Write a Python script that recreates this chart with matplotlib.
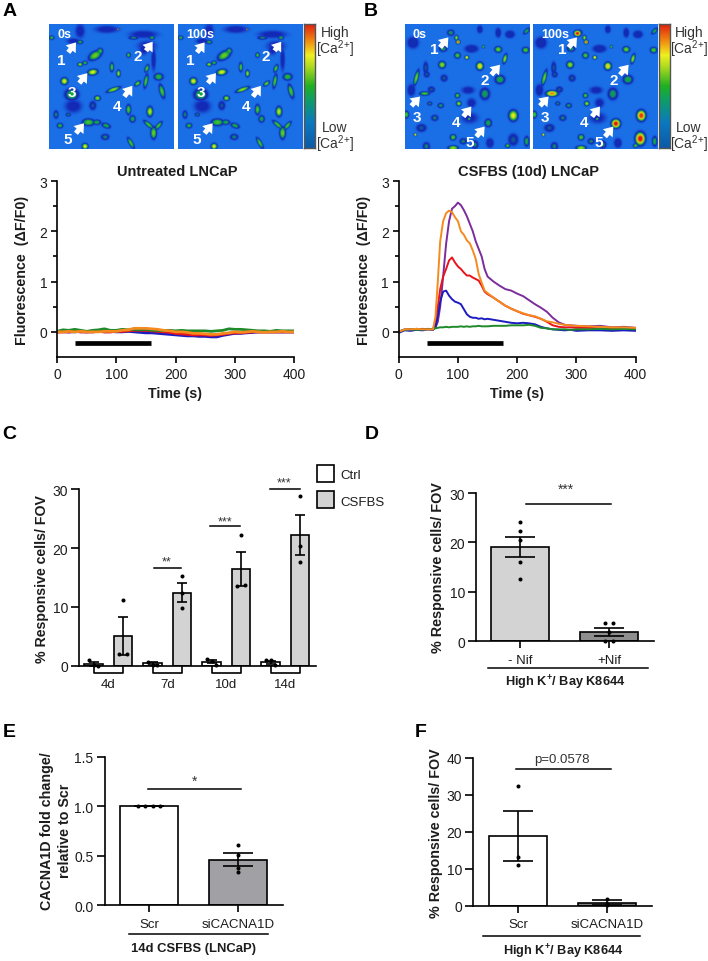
import numpy as np
import matplotlib
matplotlib.use("Agg")
import matplotlib.pyplot as plt
from matplotlib.colors import LinearSegmentedColormap
from matplotlib.lines import Line2D
from matplotlib.patches import FancyArrow, Rectangle

plt.rcParams['font.family'] = ['Liberation Sans', 'DejaVu Sans']
plt.rcParams['mathtext.default'] = 'regular'
plt.rcParams['axes.linewidth'] = 1.2

W, H = 708, 962
INK = '#1c1c1c'

TIME_B = [0, 10, 20, 30, 40, 50, 58, 62, 66, 70, 75, 80, 85, 90, 95, 100, 105, 110, 115, 120, 125, 130,
          135, 140, 145, 150, 160, 170, 180, 190, 200, 210, 220, 230, 240, 250, 260, 270, 280, 290,
          300, 320, 340, 360, 380, 400]
B_PURPLE = [0, .05, .04, .06, .05, .06, .05, .08, .2, .5, 1.1, 1.75, 2.2, 2.45, 2.5, 2.57, 2.52, 2.42, 2.3, 2.15, 2.0, 1.8,
            1.65, 1.5, 1.25, 1.1, 1.0, .92, .85, .82, .76, .71, .63, .55, .48, .4, .28, .19, .14, .13,
            .12, .11, .12, .09, .1, .08]
B_RED = [0, .04, .05, .05, .06, .05, .05, .2, .5, .85, 1.1, 1.25, 1.42, 1.48, 1.38, 1.3, 1.25, 1.18, 1.12, 1.12, 1.08, 1.05,
         1.02, .92, .8, .75, .68, .6, .52, .46, .41, .36, .33, .3, .26, .2, .13, .1, .09, .09,
         .08, .08, .07, .07, .08, .07]
B_BLUE = [-.02, .03, .02, .04, .03, .05, .04, .1, .3, .6, .8, .82, .72, .65, .6, .58, .55, .45, .35, .3, .28, .28,
          .26, .27, .25, .26, .24, .22, .2, .18, .17, .18, .17, .15, .1, .07, .05, .04, .03, .04,
          .02, .03, .03, .02, .03, .02]
B_GREEN = [.01, .04, .05, .04, .05, .05, .06, .07, .08, .09, .09, .1, .09, .1, .1, .1, .11, .1, .11, .1, .11, .11,
           .12, .11, .11, .11, .12, .12, .12, .13, .13, .13, .14, .12, .08, .07, .05, .05, .05, .04,
           .05, .05, .06, .05, .06, .05]
B_ORANGE = [0, .05, .05, .06, .05, .05, .05, .3, 1.0, 1.8, 2.2, 2.36, 2.41, 2.38, 2.28, 2.2, 2.0, 1.93, 1.82, 1.76, 1.62, 1.45,
            1.15, .98, .82, .77, .68, .6, .52, .46, .41, .37, .33, .31, .26, .21, .19, .16, .14, .13,
            .12, .11, .1, .09, .09, .08]

# traces, panel A
TIME_A = [0, 10, 20, 30, 40, 50, 60, 70, 80, 90, 100, 110, 120, 130, 140, 150, 160, 170, 180, 190, 200,
          210, 220, 230, 240, 250, 260, 270, 280, 290, 300, 310, 320, 330, 340, 350, 360, 370, 380, 390, 400]
A_GREEN = [.01, .04, .03, .05, .03, .01, .03, .04, .06, .03, .03, .05, .04, .05, .04, .05, .03, .03, .02, .03, .02,
           .03, .02, .02, .02, .02, .01, .02, .03, .06, .05, .05, .04, .03, .02, .02, .01, .03, .02, .02, .02]
A_BLUE = [0, .01, 0, 0, .01, 0, .01, .01, .01, .01, 0, 0, .01, 0, -.01, -.02, -.02, -.03, -.04, -.05, -.06,
          -.07, -.08, -.08, -.09, -.09, -.1, -.1, -.07, -.05, -.03, -.03, -.02, -.01, 0, 0, 0, 0, 0, 0, 0]
A_RED = [0, 0, 0, .01, 0, 0, 0, .01, 0, 0, .01, .01, .02, .03, .03, .03, .02, .01, 0, -.01, -.03,
         -.04, -.05, -.06, -.06, -.06, -.07, -.06, -.05, -.03, -.02, -.02, -.01, 0, 0, 0, 0, 0, 0, 0, 0]
A_ORANGE = [0, 0, .01, 0, .01, 0, 0, 0, .01, .01, .01, .03, .04, .07, .07, .07, .06, .05, .03, .02, 0,
            0, -.01, -.03, -.03, -.04, -.05, -.05, -.03, -.02, 0, -.01, 0, .01, 0, -.01, 0, 0, .01, 0, 0]

# panel C
C_DAYS = ['4d', '7d', '10d', '14d']
C_CTRL = [0.3, 0.4, 0.7, 0.6]
C_CTRL_UP = [0.7, 0.6, 0.9, 0.8]
C_CTRL_LOW = [0.0, 0.1, 0.4, 0.3]
C_CSFBS = [5.0, 12.4, 16.5, 22.2]
C_CSFBS_UP = [8.2, 14.1, 19.4, 25.7]
C_CSFBS_LOW = [1.9, 10.9, 13.6, 18.9]
C_CTRL_DOTS = [[1.0, 0.2, -0.1], [0.7, 0.2, 0.1], [1.1, 0.8, 0.2], [1.0, 0.9, 0.1]]
C_CSFBS_DOTS = [[11.2, 2.0, 2.0], [15.2, 12.3, 9.8], [22.2, 13.5, 13.8], [28.8, 20.4, 17.7]]

# panel D
D_LABELS = ['- Nif', '+Nif']
D_MEANS = [19.0, 1.8]
D_UP = [21.2, 2.7]
D_LOW = [17.0, 1.0]
D_DOTS = [[24.1, 22.3, 20.4, 16.0, 12.7], [3.8, 3.7, 1.8, 0.0, 0.0]]

# panel E
E_LABELS = ['Scr', 'siCACNA1D']
E_MEANS = [1.0, 0.46]
E_UP = [1.0, 0.53]
E_LOW = [1.0, 0.40]
E_DOTS = [[1.0, 1.0, 1.0, 1.0], [0.61, 0.51, 0.38, 0.34]]

# panel F
F_LABELS = ['Scr', 'siCACNA1D']
F_MEANS = [18.8, 0.9]
F_UP = [25.7, 1.7]
F_LOW = [12.2, 0.3]
F_DOTS = [[32.3, 13.2, 11.0], [2.0, 0.5, 0.2]]

# microscope fields: x, y, half length, half width, angle, level (0-374 across each picture)
CELLS_A = [(137, 93, 14, 8, -30, .55), (152, 80, 6, 6, 0, .45), (92, 120, 5, 4, 0, .6), (107, 115, 5, 4, 0, .45),
           (130, 143, 10, 6, -10, .7), (187, 128, 4, 9, 0, .5), (207, 147, 4, 7, 0, .6), (237, 92, 4, 5, 0, .5),
           (292, 132, 4, 8, 20, .5), (289, 170, 4, 14, 10, .5), (264, 177, 7, 4, -40, .55), (327, 157, 9, 7, 0, .45),
           (337, 200, 5, 14, -15, .5), (192, 195, 14, 4, -20, .6), (144, 221, 6, 5, 0, .6), (130, 243, 7, 9, 0, .25),
           (45, 170, 7, 7, 0, .7), (67, 210, 14, 12, 0, .4), (72, 245, 18, 14, 0, .15), (20, 270, 5, 8, 0, .3),
           (57, 270, 5, 4, 0, .3), (237, 255, 5, 10, 0, .5), (249, 283, 6, 7, 0, .4), (301, 261, 6, 10, 0, .65),
           (32, 303, 6, 5, 0, .45), (117, 293, 12, 7, 0, .5), (142, 293, 8, 5, 0, .4), (170, 303, 9, 5, 20, .4),
           (167, 337, 8, 6, 0, .3), (297, 300, 12, 4, 40, .5), (327, 303, 10, 4, -50, .5), (312, 325, 6, 12, 0, .55),
           (107, 365, 6, 6, 0, .7), (244, 355, 4, 12, -30, .5), (92, 20, 10, 15, 0, .15), (72, 50, 14, 6, 0, .15),
           (92, 53, 6, 4, 0, .4), (172, 15, 25, 8, 0, .15), (205, 15, 2, 2, 0, .95), (282, 30, 30, 8, 0, .15),
           (252, 40, 10, 4, 0, .3), (307, 40, 6, 4, 0, .4), (282, 75, 10, 12, 0, .13), (312, 105, 5, 25, 0, .15),
           (292, 65, 20, 12, 0, .13), (7, 40, 5, 4, 0, .45)]
CELLS_B = [(136, 25, 7, 6, 0, .35), (153, 40, 4, 5, 0, .6), (158, 53, 4, 4, 0, .95), (113, 73, 8, 6, 0, .35),
           (23, 55, 12, 12, 0, .2), (223, 15, 6, 8, 0, .2), (278, 25, 6, 10, 0, .2), (313, 30, 10, 8, 0, .2),
           (363, 20, 8, 4, -45, .4), (198, 73, 14, 8, 0, .2), (233, 67, 3, 3, 0, .5), (278, 75, 7, 6, 0, .55),
           (360, 77, 7, 6, 0, .5), (156, 93, 6, 6, 0, .5), (184, 99, 4, 4, 0, .75), (298, 103, 4, 10, 15, .6),
           (223, 125, 7, 8, 0, .75), (110, 121, 7, 7, 0, .6), (33, 160, 4, 16, 15, .55), (61, 130, 5, 12, 0, .25),
           (64, 150, 6, 6, 0, .25), (116, 161, 7, 7, 0, .25), (283, 165, 10, 9, 0, .4), (18, 197, 8, 12, 0, .2),
           (58, 207, 10, 4, 0, .5), (78, 195, 7, 6, 0, .25), (188, 197, 14, 8, 0, .15), (238, 208, 10, 12, 0, .35),
           (156, 213, 5, 5, 0, .5), (198, 235, 10, 10, 0, .15), (160, 237, 5, 5, 0, .6), (106, 243, 6, 5, 0, .35),
           (73, 237, 5, 4, 0, .3), (3, 270, 5, 7, 0, .5), (88, 280, 7, 6, 0, .3), (193, 280, 18, 12, 0, .13),
           (191, 283, 3, 3, 0, .5), (248, 295, 7, 8, 0, .4), (323, 273, 9, 11, 0, .7), (30, 330, 3, 3, 0, .8),
           (48, 310, 10, 8, 0, .25), (143, 338, 6, 6, 0, .5), (173, 350, 7, 6, 0, .3), (253, 355, 8, 10, 0, .2),
           (208, 360, 7, 8, 0, .3), (323, 345, 10, 12, 0, .25), (363, 350, 5, 10, 0, .4), (306, 363, 5, 4, 0, .5),
           (63, 365, 7, 8, 0, .3), (143, 370, 10, 5, 0, .6)]
CELLS_B_LATE = [(132, 27, 7, 6, 0, 1.0), (56, 207, 12, 6, 0, .85), (247, 297, 9, 9, 0, 1.0),
                (320, 342, 10, 13, 0, 1.0), (323, 273, 9, 11, 0, .95)]

# arrow tip, arrow tail, label position
ARROWS_A = [((80, 55), (57, 85), '1', (37, 107)), ((310, 53), (290, 80), '2', (265, 97)),
            ((114, 147), (90, 177), '3', (69, 203)), ((249, 185), (225, 217), '4', (204, 245)),
            ((104, 297), (80, 327), '5', (56, 345))]
ARROWS_B = [((131, 40), (106, 70), '1', (88, 75)), ((286, 122), (260, 152), '2', (240, 168)),
            ((46, 217), (20, 245), '3', (36, 277)), ((200, 247), (176, 277), '4', (153, 293)),
            ((240, 307), (215, 337), '5', (195, 352))]

field_cmap = LinearSegmentedColormap.from_list('field', [
    (0, '#1a6fe6'), (.12, '#1428b8'), (.2, '#1030b0'), (.3, '#108a70'), (.4, '#10a840'),
    (.55, '#70c820'), (.7, '#e8e820'), (.85, '#f08010'), (1, '#d81010')])
bar_cmap = LinearSegmentedColormap.from_list('calib', [
    (0, '#0c5aa8'), (.2, '#0a78c0'), (.4, '#10a060'), (.5, '#20b020'), (.65, '#a8d820'),
    (.75, '#f0f020'), (.87, '#f08810'), (1, '#e02010')])

fig = plt.figure(figsize=(W / 100, H / 100), dpi=100)


def axes_px(left, right, top, bottom):
    return fig.add_axes([left / W, 1 - bottom / H, (right - left) / W, (bottom - top) / H])


def text_px(x, y, s, **kw):
    kw.setdefault('ha', 'center')
    kw.setdefault('va', 'center')
    kw.setdefault('color', INK)
    kw.setdefault('fontsize', 10)
    fig.text(x / W, 1 - y / H, s, **kw)


def line_px(x0, x1, y):
    fig.add_artist(Line2D([x0 / W, x1 / W], [1 - y / H, 1 - y / H], color='black', lw=1.1))


def render_field(cells):
    xx, yy = np.meshgrid(np.arange(0, 374, 2.0), np.arange(0, 374, 2.0))
    out = np.zeros_like(xx)
    for x, y, a, b, angle, level in cells:
        t = np.deg2rad(angle)
        u = (xx - x) * np.cos(t) + (yy - y) * np.sin(t)
        v = -(xx - x) * np.sin(t) + (yy - y) * np.cos(t)
        r = np.sqrt((u / a) ** 2 + (v / b) ** 2)
        blob = level * np.exp(-(r / 1.35) ** 3)
        out = np.maximum(out, blob)
    return out


def micro(left, right, cells, arrows, stamp):
    ax = axes_px(left, right, 25, 150)
    ax.imshow(render_field(cells), cmap=field_cmap, vmin=0, vmax=1, extent=(0, 374, 374, 0),
              interpolation='bilinear', aspect='auto')
    ax.axis('off')
    for tip, tail, name, pos in arrows:
        ax.add_patch(FancyArrow(tail[0], tail[1], tip[0] - tail[0], tip[1] - tail[1], width=15, head_width=38,
                                head_length=26, length_includes_head=True, color='white', lw=0))
        ax.text(pos[0], pos[1], name, color='white', fontsize=11, fontweight='bold', ha='center', va='center')
    ax.text(24, 30, stamp, color='white', fontsize=9, fontweight='bold', ha='left', va='center')


def calib(left, right, tx):
    ax = axes_px(left, right, 25, 149)
    ax.imshow(np.linspace(1, 0, 200).reshape(-1, 1), cmap=bar_cmap, aspect='auto')
    ax.set_xticks([])
    ax.set_yticks([])
    for s in ax.spines.values():
        s.set_color('#555555')
        s.set_linewidth(1)
    text_px(tx, 33, 'High', color='#333333')
    text_px(tx, 49, '[Ca$^{2{+}}$]', color='#333333')
    text_px(tx, 128, 'Low', color='#333333')
    text_px(tx, 144, '[Ca$^{2{+}}$]', color='#333333')


def trace_panel(left, right, series, bar, title, title_x, xlabel_x, ylabel_x, lw):
    ax = axes_px(left, right, 182, 358)
    for t, vals, col in series:
        ax.plot(t, vals, color=col, lw=lw, solid_joinstyle='round')
    ax.plot(bar, [-.22, -.22], color='black', lw=3.4, solid_capstyle='butt')
    ax.set_xlim(0, 400)
    ax.set_ylim(-.5, 3)
    ax.set_xticks([0, 100, 200, 300, 400])
    ax.set_yticks([0, 1, 2, 3])
    ax.set_yticks([.5, 1.5, 2.5], minor=True)
    ax.tick_params(width=1.2, length=4, labelsize=10, labelcolor=INK, pad=3)
    ax.tick_params(which='minor', width=1.2, length=3)
    ax.spines[['top', 'right']].set_visible(False)
    for s in ax.spines.values():
        s.set_zorder(5)
    text_px(title_x, 172, title, fontweight='bold', fontsize=10.5)
    text_px(xlabel_x, 394, 'Time (s)', fontweight='bold', fontsize=10.2)
    text_px(ylabel_x, 270, 'Fluorescence  (\u0394F/F0)', fontweight='bold', rotation=90, fontsize=10.3)


def style_bars(ax, yticks):
    ax.set_yticks(yticks)
    ax.set_ylim(yticks[0], yticks[-1])
    ax.spines[['top', 'right']].set_visible(False)
    ax.tick_params(axis='y', width=1.2, length=6, labelsize=10, labelcolor=INK, pad=2)


def two_bar(box, centers, labels, means, up, low, dots, colors, yticks, fmt, dot_dx, sig, sig_text, sig_xy):
    # one x unit is the distance between the two bars
    left, right, top, bottom = box
    ax = axes_px(left, right, top, bottom)
    step = centers[1] - centers[0]
    ax.set_xlim((left - centers[0]) / step, (right - centers[0]) / step)
    pos = [0, 1]
    ax.bar(pos, means, width=.652, color=colors, edgecolor='black', linewidth=1.2, zorder=2)
    ax.errorbar(pos, means, yerr=[np.array(means) - np.array(low), np.array(up) - np.array(means)], fmt='none',
                ecolor='black', elinewidth=1.2, capsize=10.5, capthick=1.2, zorder=3)
    for i, vals in enumerate(dots):
        ax.plot([pos[i] + d for d in dot_dx[i]], vals, 'o', color='black', ms=2.9, zorder=4, clip_on=False, mew=0)
    ax.plot(sig[:2], [sig[2], sig[2]], color='black', lw=1.1, clip_on=False)
    style_bars(ax, yticks)
    ax.yaxis.set_major_formatter(fmt)
    ax.set_xticks(pos)
    ax.set_xticklabels(labels)
    ax.tick_params(axis='x', width=1.2, length=4.8, labelsize=9.5, labelcolor=INK, pad=4)
    text_px(sig_xy[0], sig_xy[1], sig_text, fontsize=sig_xy[2], color='#333333')
    return ax


# panel letters
for name, x, y in [('A', 10, 12), ('B', 371, 12), ('C', 9, 435), ('D', 372, 435), ('E', 9, 733), ('F', 421, 733)]:
    text_px(x, y, name, fontsize=14, fontweight='bold', color='black')

# A and B, pictures
micro(49.3, 174, CELLS_A, ARROWS_A, '0s')
micro(178, 302.5, CELLS_A, ARROWS_A, '100s')
calib(304, 315, 335)
micro(404.7, 529.3, CELLS_B, ARROWS_B, '0s')
micro(533.3, 658, CELLS_B + CELLS_B_LATE, ARROWS_B, '100s')
calib(659.3, 670, 689)

# A and B, traces
trace_panel(57, 294,
            [(TIME_A, A_RED, '#7b2d9b'), (TIME_A, A_BLUE, '#1c1cc0'), (TIME_A, A_RED, '#e8141c'),
             (TIME_A, A_GREEN, '#1f8a2a'), (TIME_A, A_ORANGE, '#f58a1f')],
            [30.4, 158.3], 'Untreated LNCaP', 177, 175, 22, 2.0)
trace_panel(398.7, 635.7,
            [(TIME_B, B_PURPLE, '#7b2d9b'), (TIME_B, B_RED, '#e8141c'), (TIME_B, B_BLUE, '#1c1cc0'),
             (TIME_B, B_GREEN, '#1f8a2a'), (TIME_B, B_ORANGE, '#f58a1f')],
            [47.3, 175.2], 'CSFBS (10d) LNCaP', 528, 517, 364, 1.4)

# C
ax = axes_px(79.3, 316, 490.3, 666.7)
step = 29.5
ax.set_xlim((79.3 - 93.6) / step, (316 - 93.6) / step)
dot_spread = [.14, 0, .14, 0]
for g in range(len(C_DAYS)):
    x_ctrl, x_csfbs = 2 * g, 2 * g + 1
    ax.bar(x_ctrl, C_CTRL[g], width=.63, color='white', edgecolor='black', linewidth=1.2, zorder=2)
    ax.bar(x_csfbs, C_CSFBS[g], width=.63, color='#d3d3d3', edgecolor='black', linewidth=1.2, zorder=2)
    ax.plot([x_ctrl, x_ctrl, x_csfbs, x_csfbs], [0, -1.2, -1.2, 0], color='black', lw=1.2, clip_on=False, zorder=1)
    ax.errorbar([x_ctrl, x_csfbs], [C_CTRL[g], C_CSFBS[g]],
                yerr=[[C_CTRL[g] - C_CTRL_LOW[g], C_CSFBS[g] - C_CSFBS_LOW[g]],
                      [C_CTRL_UP[g] - C_CTRL[g], C_CSFBS_UP[g] - C_CSFBS[g]]],
                fmt='none', ecolor='black', elinewidth=1.2, capsize=3.8, capthick=1.2, zorder=3)
    ax.plot([x_ctrl - .14, x_ctrl, x_ctrl + .14], C_CTRL_DOTS[g], 'o', color='black', ms=2.9, mew=0, zorder=4,
            clip_on=False)
    ax.plot([x_csfbs, x_csfbs - dot_spread[g], x_csfbs + dot_spread[g]], C_CSFBS_DOTS[g], 'o', color='black',
            ms=2.9, mew=0, zorder=4)
ax.plot([2.05, 2.97], [16.7, 16.7], color='black', lw=1.1)
ax.plot([3.95, 4.97], [23.7, 23.7], color='black', lw=1.1)
ax.plot([5.98, 7.0], [30, 30], color='black', lw=1.1, clip_on=False)
style_bars(ax, [0, 10, 20, 30])
ax.set_xticks([.5, 2.5, 4.5, 6.5])
ax.set_xticklabels(C_DAYS)
ax.tick_params(axis='x', length=0, labelsize=9.5, labelcolor=INK, pad=9)
text_px(42, 579, '% Responsive cells/ FOV', fontweight='bold', rotation=90, fontsize=10.2)
text_px(167, 562, '**', fontsize=9, color='#333333')
text_px(225, 522, '***', fontsize=9, color='#333333')
text_px(284, 483, '***', fontsize=9, color='#333333')
# legend boxes
fig.add_artist(Rectangle((316.7 / W, 1 - 483 / H), 17.3 / W, 17.3 / H, facecolor='white', edgecolor='black', lw=1.2))
fig.add_artist(Rectangle((316.7 / W, 1 - 509 / H), 17.3 / W, 17.3 / H, facecolor='#d3d3d3', edgecolor='black', lw=1.2))
text_px(340, 476, 'Ctrl', ha='left', fontsize=9.5)
text_px(340, 503, 'CSFBS', ha='left', fontsize=9.5)

# D
two_bar((476, 654, 494, 642.3), (520, 609), D_LABELS, D_MEANS, D_UP, D_LOW, D_DOTS, ['#d3d3d3', '#8e8e8e'],
        [0, 10, 20, 30], '{x:g}', [[0, 0, 0, 0, 0], [-.04, .04, 0, -.04, .04]], [.064, 1.02, 27.7], '***',
        (566, 490, 10))
text_px(438, 568, '% Responsive cells/ FOV', fontweight='bold', rotation=90, fontsize=10.4)
line_px(487.7, 647.7, 669)
text_px(565, 683, 'High K$^{+}$/ Bay K8644', fontweight='bold', fontsize=9.2)

# E
two_bar((104.7, 283, 758, 906.3), (149, 238), E_LABELS, E_MEANS, E_UP, E_LOW, E_DOTS, ['white', '#a0a0a5'],
        [0, .5, 1, 1.5], '{x:.1f}', [[-.12, -.04, .04, .12], [0, 0, 0, 0]], [-.01, 1.03, 1.176], '*', (195, 782, 10))
text_px(47, 831, 'CACNA1D fold change/', fontweight='bold', rotation=90, fontsize=10.3)
text_px(65, 831, 'relative to Scr', fontweight='bold', rotation=90, fontsize=10.3)
line_px(129, 268, 935.3)
text_px(194, 949.3, '14d CSFBS (LNCaP)', fontweight='bold', fontsize=9.4)

# F
two_bar((473, 651.7, 758.7, 907), (518, 607), F_LABELS, F_MEANS, F_UP, F_LOW, F_DOTS, ['white', '#808080'],
        [0, 10, 20, 30, 40], '{x:g}', [[0, 0, 0], [0, 0, 0]], [-.02, 1.04, 36.9], 'p=0.0578', (562, 760, 9.5))
text_px(436, 833, '% Responsive cells/ FOV', fontweight='bold', rotation=90, fontsize=10.3)
line_px(483, 640, 937)
text_px(563, 952, 'High K$^{+}$/ Bay K8644', fontweight='bold', fontsize=9.2)

fig.savefig('out.png', dpi=100)
